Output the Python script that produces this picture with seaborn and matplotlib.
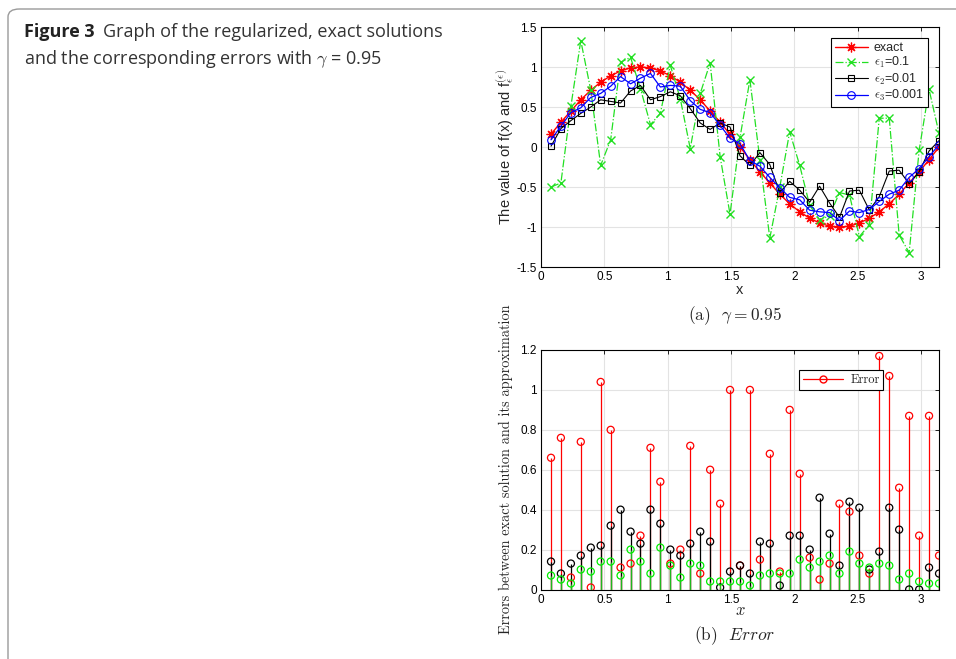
import matplotlib
matplotlib.use("Agg")
import matplotlib.pyplot as plt
import seaborn as sns
import pandas as pd
from matplotlib.lines import Line2D
from matplotlib.patches import FancyBboxPatch

# ---------------------------------------------------------------------------
# Data
# ---------------------------------------------------------------------------
x_vals = [0.079, 0.157, 0.236, 0.314, 0.393, 0.471, 0.550, 0.628, 0.707, 0.785,
          0.864, 0.942, 1.021, 1.100, 1.178, 1.257, 1.335, 1.414, 1.492, 1.571,
          1.649, 1.728, 1.806, 1.885, 1.963, 2.042, 2.121, 2.199, 2.278, 2.356,
          2.435, 2.513, 2.592, 2.670, 2.749, 2.827, 2.906, 2.985, 3.063, 3.142]

exact = [0.16, 0.31, 0.45, 0.59, 0.71, 0.81, 0.89, 0.95, 0.99, 1.00,
         0.99, 0.95, 0.89, 0.81, 0.71, 0.59, 0.45, 0.31, 0.16, 0.00,
         -0.16, -0.31, -0.45, -0.59, -0.71, -0.81, -0.89, -0.95, -0.99, -1.00,
         -0.99, -0.95, -0.89, -0.81, -0.71, -0.59, -0.45, -0.31, -0.16, 0.00]

eps1 = [-0.50, -0.45, 0.51, 1.33, 0.71, -0.23, 0.09, 1.06, 1.12, 0.73,
        0.28, 0.42, 1.02, 0.60, -0.02, 0.67, 1.05, -0.12, -0.84, 0.12,
        0.84, -0.16, -1.14, -0.50, 0.19, -0.23, -0.73, -0.91, -0.86, -0.57,
        -0.60, -1.12, -0.97, 0.36, 0.36, -1.10, -1.32, -0.04, 0.72, 0.17]

eps2 = [0.01, 0.23, 0.33, 0.42, 0.50, 0.59, 0.57, 0.55, 0.70, 0.77,
        0.59, 0.63, 0.69, 0.64, 0.48, 0.30, 0.22, 0.30, 0.25, -0.11,
        -0.23, -0.07, -0.22, -0.57, -0.43, -0.54, -0.69, -0.49, -0.70, -0.88,
        -0.55, -0.54, -0.79, -0.62, -0.30, -0.29, -0.46, -0.31, -0.05, 0.08]

eps3 = [0.09, 0.26, 0.43, 0.49, 0.62, 0.67, 0.76, 0.88, 0.79, 0.86,
        0.92, 0.75, 0.77, 0.76, 0.58, 0.47, 0.43, 0.27, 0.11, 0.04,
        -0.17, -0.24, -0.38, -0.51, -0.63, -0.66, -0.79, -0.81, -0.82, -0.92,
        -0.80, -0.82, -0.78, -0.68, -0.59, -0.54, -0.38, -0.27, -0.12, 0.03]

err1 = [0.66, 0.76, 0.06, 0.74, 0.01, 1.04, 0.80, 0.11, 0.13, 0.27,
        0.71, 0.54, 0.13, 0.20, 0.72, 0.08, 0.60, 0.43, 1.00, 0.12,
        1.00, 0.15, 0.68, 0.09, 0.90, 0.58, 0.16, 0.05, 0.13, 0.43,
        0.39, 0.17, 0.08, 1.17, 1.07, 0.51, 0.87, 0.27, 0.87, 0.17]

err2 = [0.14, 0.08, 0.13, 0.17, 0.21, 0.22, 0.32, 0.40, 0.29, 0.23,
        0.40, 0.33, 0.20, 0.17, 0.23, 0.29, 0.24, 0.01, 0.09, 0.12,
        0.08, 0.24, 0.23, 0.02, 0.27, 0.27, 0.20, 0.46, 0.28, 0.12,
        0.44, 0.41, 0.10, 0.19, 0.41, 0.30, 0.00, 0.00, 0.11, 0.08]

err3 = [0.07, 0.05, 0.03, 0.10, 0.09, 0.14, 0.14, 0.07, 0.20, 0.14,
        0.08, 0.21, 0.12, 0.06, 0.13, 0.12, 0.04, 0.04, 0.04, 0.04,
        0.02, 0.07, 0.08, 0.08, 0.08, 0.15, 0.11, 0.14, 0.17, 0.08,
        0.19, 0.13, 0.11, 0.13, 0.12, 0.05, 0.08, 0.04, 0.03, 0.03]

top_yticks = [-1.5, -1, -0.5, 0, 0.5, 1, 1.5]
bot_yticks = [0, 0.2, 0.4, 0.6, 0.8, 1.0, 1.2]
xticks = [0, 0.5, 1, 1.5, 2, 2.5, 3]

df = pd.DataFrame({"x": x_vals, "exact": exact, "eps1": eps1, "eps2": eps2,
                   "eps3": eps3, "err1": err1, "err2": err2, "err3": err3})

# ---------------------------------------------------------------------------
# Style
# ---------------------------------------------------------------------------
sns.set_theme(style="whitegrid")
plt.rcParams["font.family"] = ["Liberation Sans", "DejaVu Sans"]
plt.rcParams["mathtext.fontset"] = "cm"
plt.rcParams["axes.unicode_minus"] = False

GREEN = "#22e022"
GRID = "#e3e3e3"
SERIF = "cmr10"

fig = plt.figure(figsize=(9.56, 6.59), dpi=100)
fig.patch.set_facecolor("white")

# frame around the figure panel
frame = FancyBboxPatch((8 / 956, -0.05), 1.2, 1.05 - 9 / 659,
                       boxstyle="round,pad=0,rounding_size=0.012",
                       transform=fig.transFigure, fill=False,
                       edgecolor="#9a9a9a", linewidth=1.0)
fig.patches.append(frame)

# caption
fig.text(24 / 956, 1 - 37 / 659, "Figure 3", fontfamily="Open Sans",
         fontweight="bold", fontsize=13, color="#222222")
fig.text(103 / 956, 1 - 37 / 659, "Graph of the regularized, exact solutions",
         fontfamily="Open Sans", fontsize=13, color="#333333")
fig.text(24 / 956, 1 - 64 / 659, r"and the corresponding errors with $\gamma$ = 0.95",
         fontfamily="Open Sans", fontsize=13, color="#333333")


def style_axes(ax):
    ax.set_facecolor("white")
    ax.grid(True, color=GRID, linewidth=0.8)
    for s in ax.spines.values():
        s.set_color("black")
        s.set_linewidth(0.8)
    ax.tick_params(direction="in", length=3, width=0.6, top=True, right=True,
                   labelsize=8.5, pad=3, colors="black")
    ax.set_xlim(0, 3.1416)
    ax.set_xticks(xticks)
    ax.set_xticklabels([f"{t:g}" for t in xticks])


# ---------------------------------------------------------------------------
# Top panel
# ---------------------------------------------------------------------------
ax1 = fig.add_axes([541 / 956, 1 - 267 / 659, 398 / 956, 240 / 659])
style_axes(ax1)
sns.lineplot(data=df, x="x", y="exact", ax=ax1, color="red", lw=1.0,
             marker=(8, 2, 0), markersize=7, markeredgewidth=0.9,
             markeredgecolor="red", label="exact", sort=False)
sns.lineplot(data=df, x="x", y="eps1", ax=ax1, color=GREEN, lw=0.9,
             linestyle="-.", marker="x", markersize=5.5, markeredgewidth=1.0,
             markeredgecolor=GREEN, label=r"$\epsilon_1$=0.1", sort=False)
sns.lineplot(data=df, x="x", y="eps2", ax=ax1, color="black", lw=0.8,
             marker="s", markersize=4.5, markerfacecolor="none",
             markeredgecolor="black", markeredgewidth=0.8,
             label=r"$\epsilon_2$=0.01", sort=False)
sns.lineplot(data=df, x="x", y="eps3", ax=ax1, color="blue", lw=0.9,
             marker="o", markersize=5.5, markerfacecolor="none",
             markeredgecolor="blue", markeredgewidth=0.8,
             label=r"$\epsilon_3$=0.001", sort=False)
ax1.set_ylim(-1.5, 1.5)
ax1.set_yticks(top_yticks)
ax1.set_yticklabels([f"{t:g}" for t in top_yticks])
ax1.set_xlabel("x", fontsize=10.5, labelpad=0)
ax1.set_ylabel(r"The value of f(x) and f$_\epsilon^{(\epsilon)}$", fontsize=10.5,
               labelpad=0)
leg1 = ax1.legend(loc="upper right", fontsize=9, frameon=True, fancybox=False,
                  edgecolor="black", framealpha=1, handlelength=2.6,
                  borderpad=0.3, labelspacing=0.1, handletextpad=0.5,
                  borderaxespad=0.9)
leg1.get_frame().set_linewidth(0.8)

fig.text(735 / 956, 1 - 320 / 659, r"(a)  $\gamma = 0.95$", fontfamily=SERIF,
         fontsize=12.5, ha="center")

# ---------------------------------------------------------------------------
# Bottom panel (stems)
# ---------------------------------------------------------------------------
ax2 = fig.add_axes([541 / 956, 1 - 589.5 / 659, 398 / 956, 239.5 / 659])
style_axes(ax2)
for col, c_line, c_mark in [("err1", "red", "red"),
                            ("err2", "black", "black"),
                            ("err3", "#1fb81f", "#00ee00")]:
    ax2.vlines(df["x"], 0, df[col], color=c_line, linewidth=0.9, zorder=3)
    sns.scatterplot(data=df, x="x", y=col, ax=ax2, marker="o", s=26,
                    facecolor="none", edgecolor=c_mark, linewidth=0.9,
                    zorder=4, legend=False)
ax2.set_ylim(0, 1.2)
ax2.set_yticks(bot_yticks)
ax2.set_yticklabels([f"{t:g}" for t in bot_yticks])
ax2.set_xlabel(r"$x$", fontsize=12, labelpad=-2)
ax2.set_ylabel("Errors between exact solution and its approximation",
               fontfamily=SERIF, fontsize=10.3, labelpad=5)
handle = Line2D([], [], color="red", lw=0.9, marker="o", markersize=5,
                markerfacecolor="none", markeredgecolor="red")
leg2 = ax2.legend([handle], ["Error"], loc="upper left",
                  bbox_to_anchor=((799 - 541) / 398, 1 - (370 - 350) / 239.5),
                  borderaxespad=0, prop={"family": SERIF, "size": 9},
                  frameon=True, fancybox=False, edgecolor="black", framealpha=1,
                  handlelength=3.2, borderpad=0.3, handletextpad=0.6)
leg2.get_frame().set_linewidth(0.8)

fig.text(735 / 956, 1 - 640 / 659, r"(b)  $Error$", fontfamily=SERIF,
         fontsize=12.5, ha="center")

fig.savefig("out.png", dpi=100, facecolor="white")
